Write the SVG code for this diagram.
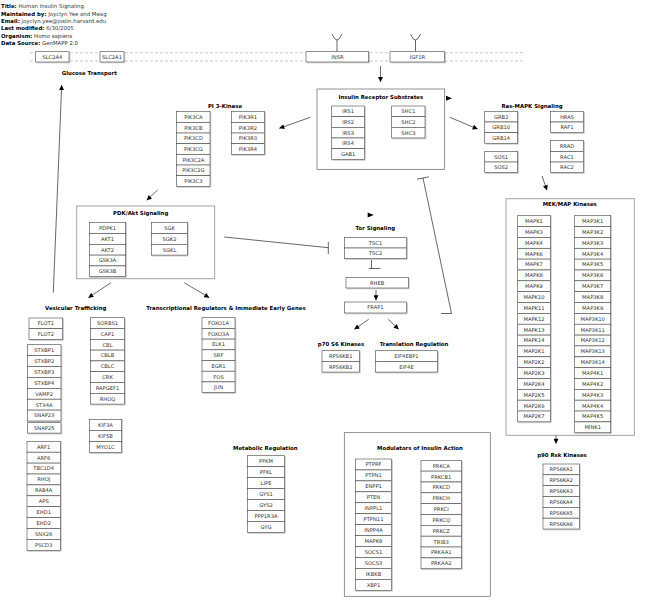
<svg xmlns="http://www.w3.org/2000/svg" width="648" height="604" viewBox="0 0 648 604">
<style>
text{font-family:"DejaVu Sans",sans-serif}
.hd{font-size:5.4px;fill:#333}
.hd tspan.b{font-weight:bold;fill:#000}
.tt{font-size:5.4px;font-weight:bold;fill:#000;text-anchor:middle}
.gb{fill:#fff;stroke:#444;stroke-width:0.6;filter:url(#sh)}
.gt{font-size:5.2px;fill:#333;text-anchor:middle}
.cb{fill:#fff;stroke:#666;stroke-width:0.7}
.cl{fill:#fff;stroke:#999;stroke-width:0.9}
.mem{stroke:#aaa;stroke-width:0.6;stroke-dasharray:3,2;fill:none}
.ln{stroke:#000;stroke-width:0.6;fill:none}
.ar{marker-end:url(#arr)}
</style>
<defs>
<filter id="sh" x="-10%" y="-10%" width="130%" height="140%"><feDropShadow dx="0.8" dy="0.8" stdDeviation="0" flood-color="#bbb"/></filter>
<marker id="arr" viewBox="0 0 10 10" refX="10" refY="5" markerWidth="6" markerHeight="5" orient="auto" markerUnits="userSpaceOnUse"><path d="M0,0L10,5L0,10z" fill="#000"/></marker>
</defs>
<rect width="648" height="604" fill="#fff"/>
<g id="header">
<text class="hd" x="1" y="7.5"><tspan class="b">Title:</tspan>  Human Insulin Signaling</text>
<text class="hd" x="1" y="16"><tspan class="b">Maintained by:</tspan>  Joyclyn Yee and Meag</text>
<text class="hd" x="1" y="22.8"><tspan class="b">Email:</tspan>  joyclyn.yee@joslin.harvard.edu</text>
<text class="hd" x="1" y="29.8"><tspan class="b">Last modified:</tspan>  6/30/2005</text>
<text class="hd" x="1" y="37.5"><tspan class="b">Organism:</tspan>  Homo sapiens</text>
<text class="hd" x="1" y="44.5"><tspan class="b">Data Source:</tspan>  GenMAPP 2.0</text>
</g>
<g id="membrane">
<line class="mem" x1="30" y1="52.7" x2="524" y2="52.7"/>
<line class="mem" x1="30" y1="61" x2="524" y2="61"/>
<path class="ln" d="M332,34Q337,46 342,34M337,40V51.7"/>
<path class="ln" d="M410.5,34Q415.5,46 420.5,34M415.5,40V51.7"/>
</g>
<g id="containers">
<rect class="cb" x="317" y="89" width="127.7" height="80.3"/>
<rect class="cl" x="76.7" y="206" width="138" height="72.7"/>
<rect class="cl" x="506" y="198.7" width="128.3" height="236.6"/>
<rect class="cb" x="344.3" y="432.7" width="146" height="163.6"/>
</g>
<g id="labels">
<text class="tt" x="89.3" y="74.5">Glucose Transport</text>
<text class="tt" x="380.8" y="99">Insulin Receptor Substrates</text>
<text class="tt" x="225" y="108">PI 3-Kinase</text>
<text class="tt" x="532" y="108">Ras-MAPK Signaling</text>
<text class="tt" x="569.7" y="205.8">MEK/MAP Kinases</text>
<text class="tt" x="140.7" y="215.3">PDK/Akt Signaling</text>
<text class="tt" x="375.3" y="230">Tor Signaling</text>
<text class="tt" x="75.7" y="309.8">Vesicular Trafficking</text>
<text class="tt" x="226" y="309.8">Transcriptional Regulators &amp; Immediate Early Genes</text>
<text class="tt" x="341" y="345.5">p70 S6 Kinases</text>
<text class="tt" x="414" y="345.5">Translation Regulation</text>
<text class="tt" x="265.3" y="449.5">Metabolic Regulation</text>
<text class="tt" x="420" y="450">Modulators of Insulin Action</text>
<text class="tt" x="562" y="457">p90 Rsk Kinases</text>
</g>
<g id="connectors">
<line class="ln ar" x1="380.5" y1="66" x2="380.5" y2="82"/>
<line class="ln ar" x1="310.3" y1="117.3" x2="279.3" y2="128.3"/>
<line class="ln ar" x1="449.7" y1="117.3" x2="477.7" y2="129"/>
<path d="M446,95.8L452,98.3L446,100.8z" fill="#000"/>
<line class="ln ar" x1="542" y1="176" x2="547" y2="190.3"/>
<line class="ln ar" x1="556" y1="435.3" x2="556" y2="443.7"/>
<line class="ln ar" x1="157.7" y1="190" x2="146.7" y2="200.3"/>
<line class="ln ar" x1="111" y1="282.7" x2="88.3" y2="297.7"/>
<line class="ln ar" x1="184.3" y1="282.7" x2="209.3" y2="297.7"/>
<line class="ln ar" x1="53.3" y1="292.7" x2="61.7" y2="85"/>
<path class="ln" d="M224.3,237L328.3,247.7M328.3,242V254"/>
<path d="M367.7,212.5L373.7,215L367.7,217.5z" fill="#000"/>
<path class="ln" d="M371.5,260V268.5M369,268.5H380.5"/>
<line class="ln ar" x1="376" y1="290" x2="376" y2="300.3"/>
<line class="ln ar" x1="368.7" y1="319.3" x2="354.3" y2="329.3"/>
<line class="ln ar" x1="388.3" y1="319.3" x2="398.7" y2="329.3"/>
<path class="ln" d="M441,313.5H451.5L423,178M417.1,179.2L428.9,176.8"/>
</g>
<g id="SLC2A4"><rect class="gb" x="35.7" y="51.7" width="33.3" height="10.3"/><text class="gt" x="52.4" y="58.8">SLC2A4</text></g>
<g id="SLC2A1"><rect class="gb" x="100" y="51.7" width="24" height="10.3"/><text class="gt" x="112" y="58.8">SLC2A1</text></g>
<g id="INSR"><rect class="gb" x="306" y="51.7" width="62.7" height="10.3"/><text class="gt" x="337.4" y="58.8">INSR</text></g>
<g id="IGF1R"><rect class="gb" x="390" y="51.7" width="54.7" height="10.3"/><text class="gt" x="417.4" y="58.8">IGF1R</text></g>
<g id="IRS1"><rect class="gb" x="331.7" y="106" width="32.7" height="10.67"/><text class="gt" x="348.1" y="113.2">IRS1</text></g>
<g id="IRS2"><rect class="gb" x="331.7" y="116.7" width="32.7" height="10.67"/><text class="gt" x="348.1" y="123.9">IRS2</text></g>
<g id="IRS3"><rect class="gb" x="331.7" y="127.3" width="32.7" height="10.67"/><text class="gt" x="348.1" y="134.5">IRS3</text></g>
<g id="IRS4"><rect class="gb" x="331.7" y="138" width="32.7" height="10.67"/><text class="gt" x="348.1" y="145.2">IRS4</text></g>
<g id="GAB1"><rect class="gb" x="331.7" y="148.7" width="32.7" height="10.67"/><text class="gt" x="348.1" y="155.9">GAB1</text></g>
<g id="SHC1"><rect class="gb" x="391.7" y="106" width="33.3" height="10.67"/><text class="gt" x="408.4" y="113.2">SHC1</text></g>
<g id="SHC2"><rect class="gb" x="391.7" y="116.7" width="33.3" height="10.67"/><text class="gt" x="408.4" y="123.9">SHC2</text></g>
<g id="SHC3"><rect class="gb" x="391.7" y="127.3" width="33.3" height="10.67"/><text class="gt" x="408.4" y="134.5">SHC3</text></g>
<g id="PIK3CA"><rect class="gb" x="176.7" y="111.7" width="33.3" height="10.67"/><text class="gt" x="193.4" y="118.9">PIK3CA</text></g>
<g id="PIK3CB"><rect class="gb" x="176.7" y="122.4" width="33.3" height="10.67"/><text class="gt" x="193.4" y="129.6">PIK3CB</text></g>
<g id="PIK3CD"><rect class="gb" x="176.7" y="133" width="33.3" height="10.67"/><text class="gt" x="193.4" y="140.2">PIK3CD</text></g>
<g id="PIK3CG"><rect class="gb" x="176.7" y="143.7" width="33.3" height="10.67"/><text class="gt" x="193.4" y="150.9">PIK3CG</text></g>
<g id="PIK3C2A"><rect class="gb" x="176.7" y="154.4" width="33.3" height="10.67"/><text class="gt" x="193.4" y="161.6">PIK3C2A</text></g>
<g id="PIK3C2G"><rect class="gb" x="176.7" y="165" width="33.3" height="10.67"/><text class="gt" x="193.4" y="172.2">PIK3C2G</text></g>
<g id="PIK3C3"><rect class="gb" x="176.7" y="175.7" width="33.3" height="10.67"/><text class="gt" x="193.4" y="182.9">PIK3C3</text></g>
<g id="PIK3R1"><rect class="gb" x="231.3" y="111.7" width="33.3" height="10.67"/><text class="gt" x="248" y="118.9">PIK3R1</text></g>
<g id="PIK3R2"><rect class="gb" x="231.3" y="122.4" width="33.3" height="10.67"/><text class="gt" x="248" y="129.6">PIK3R2</text></g>
<g id="PIK3R3"><rect class="gb" x="231.3" y="133" width="33.3" height="10.67"/><text class="gt" x="248" y="140.2">PIK3R3</text></g>
<g id="PIK3R4"><rect class="gb" x="231.3" y="143.7" width="33.3" height="10.67"/><text class="gt" x="248" y="150.9">PIK3R4</text></g>
<g id="GRB2"><rect class="gb" x="484.7" y="111.3" width="33" height="10.67"/><text class="gt" x="501.2" y="118.5">GRB2</text></g>
<g id="GRB10"><rect class="gb" x="484.7" y="122" width="33" height="10.67"/><text class="gt" x="501.2" y="129.2">GRB10</text></g>
<g id="GRB14"><rect class="gb" x="484.7" y="132.6" width="33" height="10.67"/><text class="gt" x="501.2" y="139.8">GRB14</text></g>
<g id="HRAS"><rect class="gb" x="550.3" y="111.3" width="33.3" height="10.67"/><text class="gt" x="567" y="118.5">HRAS</text></g>
<g id="RAF1"><rect class="gb" x="550.3" y="122" width="33.3" height="10.67"/><text class="gt" x="567" y="129.2">RAF1</text></g>
<g id="RRAD"><rect class="gb" x="550.3" y="140.7" width="33.3" height="10.67"/><text class="gt" x="567" y="147.9">RRAD</text></g>
<g id="RAC1"><rect class="gb" x="550.3" y="151.4" width="33.3" height="10.67"/><text class="gt" x="567" y="158.6">RAC1</text></g>
<g id="RAC2"><rect class="gb" x="550.3" y="162" width="33.3" height="10.67"/><text class="gt" x="567" y="169.2">RAC2</text></g>
<g id="SOS1"><rect class="gb" x="484.7" y="151.4" width="33" height="10.67"/><text class="gt" x="501.2" y="158.6">SOS1</text></g>
<g id="SOS2"><rect class="gb" x="484.7" y="162" width="33" height="10.67"/><text class="gt" x="501.2" y="169.2">SOS2</text></g>
<g id="MAPK1"><rect class="gb" x="517.7" y="215.7" width="32.6" height="10.85"/><text class="gt" x="534" y="223">MAPK1</text></g>
<g id="MAPK3"><rect class="gb" x="517.7" y="226.6" width="32.6" height="10.85"/><text class="gt" x="534" y="233.9">MAPK3</text></g>
<g id="MAPK4"><rect class="gb" x="517.7" y="237.4" width="32.6" height="10.85"/><text class="gt" x="534" y="244.7">MAPK4</text></g>
<g id="MAPK6"><rect class="gb" x="517.7" y="248.3" width="32.6" height="10.85"/><text class="gt" x="534" y="255.6">MAPK6</text></g>
<g id="MAPK7"><rect class="gb" x="517.7" y="259.1" width="32.6" height="10.85"/><text class="gt" x="534" y="266.4">MAPK7</text></g>
<g id="MAPK8"><rect class="gb" x="517.7" y="270" width="32.6" height="10.85"/><text class="gt" x="534" y="277.3">MAPK8</text></g>
<g id="MAPK9"><rect class="gb" x="517.7" y="280.8" width="32.6" height="10.85"/><text class="gt" x="534" y="288.1">MAPK9</text></g>
<g id="MAPK10"><rect class="gb" x="517.7" y="291.7" width="32.6" height="10.85"/><text class="gt" x="534" y="299">MAPK10</text></g>
<g id="MAPK11"><rect class="gb" x="517.7" y="302.5" width="32.6" height="10.85"/><text class="gt" x="534" y="309.8">MAPK11</text></g>
<g id="MAPK12"><rect class="gb" x="517.7" y="313.4" width="32.6" height="10.85"/><text class="gt" x="534" y="320.7">MAPK12</text></g>
<g id="MAPK13"><rect class="gb" x="517.7" y="324.2" width="32.6" height="10.85"/><text class="gt" x="534" y="331.5">MAPK13</text></g>
<g id="MAPK14"><rect class="gb" x="517.7" y="335.1" width="32.6" height="10.85"/><text class="gt" x="534" y="342.4">MAPK14</text></g>
<g id="MAP2K1"><rect class="gb" x="517.7" y="345.9" width="32.6" height="10.85"/><text class="gt" x="534" y="353.2">MAP2K1</text></g>
<g id="MAP2K2"><rect class="gb" x="517.7" y="356.8" width="32.6" height="10.85"/><text class="gt" x="534" y="364.1">MAP2K2</text></g>
<g id="MAP2K3"><rect class="gb" x="517.7" y="367.6" width="32.6" height="10.85"/><text class="gt" x="534" y="374.9">MAP2K3</text></g>
<g id="MAP2K4"><rect class="gb" x="517.7" y="378.5" width="32.6" height="10.85"/><text class="gt" x="534" y="385.8">MAP2K4</text></g>
<g id="MAP2K5"><rect class="gb" x="517.7" y="389.3" width="32.6" height="10.85"/><text class="gt" x="534" y="396.6">MAP2K5</text></g>
<g id="MAP2K6"><rect class="gb" x="517.7" y="400.2" width="32.6" height="10.85"/><text class="gt" x="534" y="407.5">MAP2K6</text></g>
<g id="MAP2K7"><rect class="gb" x="517.7" y="411" width="32.6" height="10.85"/><text class="gt" x="534" y="418.3">MAP2K7</text></g>
<g id="MAP3K1"><rect class="gb" x="574.7" y="215.7" width="36" height="10.85"/><text class="gt" x="592.7" y="223">MAP3K1</text></g>
<g id="MAP3K2"><rect class="gb" x="574.7" y="226.6" width="36" height="10.85"/><text class="gt" x="592.7" y="233.9">MAP3K2</text></g>
<g id="MAP3K3"><rect class="gb" x="574.7" y="237.4" width="36" height="10.85"/><text class="gt" x="592.7" y="244.7">MAP3K3</text></g>
<g id="MAP3K4"><rect class="gb" x="574.7" y="248.3" width="36" height="10.85"/><text class="gt" x="592.7" y="255.6">MAP3K4</text></g>
<g id="MAP3K5"><rect class="gb" x="574.7" y="259.1" width="36" height="10.85"/><text class="gt" x="592.7" y="266.4">MAP3K5</text></g>
<g id="MAP3K6"><rect class="gb" x="574.7" y="270" width="36" height="10.85"/><text class="gt" x="592.7" y="277.3">MAP3K6</text></g>
<g id="MAP3K7"><rect class="gb" x="574.7" y="280.8" width="36" height="10.85"/><text class="gt" x="592.7" y="288.1">MAP3K7</text></g>
<g id="MAP3K8"><rect class="gb" x="574.7" y="291.7" width="36" height="10.85"/><text class="gt" x="592.7" y="299">MAP3K8</text></g>
<g id="MAP3K9"><rect class="gb" x="574.7" y="302.5" width="36" height="10.85"/><text class="gt" x="592.7" y="309.8">MAP3K9</text></g>
<g id="MAP3K10"><rect class="gb" x="574.7" y="313.4" width="36" height="10.85"/><text class="gt" x="592.7" y="320.7">MAP3K10</text></g>
<g id="MAP3K11"><rect class="gb" x="574.7" y="324.2" width="36" height="10.85"/><text class="gt" x="592.7" y="331.5">MAP3K11</text></g>
<g id="MAP3K12"><rect class="gb" x="574.7" y="335.1" width="36" height="10.85"/><text class="gt" x="592.7" y="342.4">MAP3K12</text></g>
<g id="MAP3K13"><rect class="gb" x="574.7" y="345.9" width="36" height="10.85"/><text class="gt" x="592.7" y="353.2">MAP3K13</text></g>
<g id="MAP3K14"><rect class="gb" x="574.7" y="356.8" width="36" height="10.85"/><text class="gt" x="592.7" y="364.1">MAP3K14</text></g>
<g id="MAP4K1"><rect class="gb" x="574.7" y="367.6" width="36" height="10.85"/><text class="gt" x="592.7" y="374.9">MAP4K1</text></g>
<g id="MAP4K2"><rect class="gb" x="574.7" y="378.5" width="36" height="10.85"/><text class="gt" x="592.7" y="385.8">MAP4K2</text></g>
<g id="MAP4K3"><rect class="gb" x="574.7" y="389.3" width="36" height="10.85"/><text class="gt" x="592.7" y="396.6">MAP4K3</text></g>
<g id="MAP4K4"><rect class="gb" x="574.7" y="400.2" width="36" height="10.85"/><text class="gt" x="592.7" y="407.5">MAP4K4</text></g>
<g id="MAP4K5"><rect class="gb" x="574.7" y="411" width="36" height="10.85"/><text class="gt" x="592.7" y="418.3">MAP4K5</text></g>
<g id="MINK1"><rect class="gb" x="574.7" y="421.9" width="36" height="10.85"/><text class="gt" x="592.7" y="429.2">MINK1</text></g>
<g id="RPS6KA1"><rect class="gb" x="543" y="464" width="36.3" height="10.83"/><text class="gt" x="561.2" y="471.3">RPS6KA1</text></g>
<g id="RPS6KA2"><rect class="gb" x="543" y="474.8" width="36.3" height="10.83"/><text class="gt" x="561.2" y="482.1">RPS6KA2</text></g>
<g id="RPS6KA3"><rect class="gb" x="543" y="485.7" width="36.3" height="10.83"/><text class="gt" x="561.2" y="493">RPS6KA3</text></g>
<g id="RPS6KA4"><rect class="gb" x="543" y="496.5" width="36.3" height="10.83"/><text class="gt" x="561.2" y="503.8">RPS6KA4</text></g>
<g id="RPS6KA5"><rect class="gb" x="543" y="507.3" width="36.3" height="10.83"/><text class="gt" x="561.2" y="514.6">RPS6KA5</text></g>
<g id="RPS6KA6"><rect class="gb" x="543" y="518.2" width="36.3" height="10.83"/><text class="gt" x="561.2" y="525.5">RPS6KA6</text></g>
<g id="PDPK1"><rect class="gb" x="89.3" y="222.7" width="36.4" height="10.8"/><text class="gt" x="107.5" y="230">PDPK1</text></g>
<g id="AKT1"><rect class="gb" x="89.3" y="233.5" width="36.4" height="10.8"/><text class="gt" x="107.5" y="240.8">AKT1</text></g>
<g id="AKT2"><rect class="gb" x="89.3" y="244.3" width="36.4" height="10.8"/><text class="gt" x="107.5" y="251.6">AKT2</text></g>
<g id="GSK3A"><rect class="gb" x="89.3" y="255.1" width="36.4" height="10.8"/><text class="gt" x="107.5" y="262.4">GSK3A</text></g>
<g id="GSK3B"><rect class="gb" x="89.3" y="265.9" width="36.4" height="10.8"/><text class="gt" x="107.5" y="273.2">GSK3B</text></g>
<g id="SGK"><rect class="gb" x="151.7" y="222.7" width="35.6" height="10.8"/><text class="gt" x="169.5" y="230">SGK</text></g>
<g id="SGK2"><rect class="gb" x="151.7" y="233.5" width="35.6" height="10.8"/><text class="gt" x="169.5" y="240.8">SGK2</text></g>
<g id="SGKL"><rect class="gb" x="151.7" y="244.3" width="35.6" height="10.8"/><text class="gt" x="169.5" y="251.6">SGKL</text></g>
<g id="TSC1"><rect class="gb" x="344.3" y="237.3" width="62.4" height="10.7"/><text class="gt" x="375.5" y="244.6">TSC1</text></g>
<g id="TSC2"><rect class="gb" x="344.3" y="248" width="62.4" height="10.7"/><text class="gt" x="375.5" y="255.3">TSC2</text></g>
<g id="RHEB"><rect class="gb" x="346" y="277.3" width="62.3" height="10.7"/><text class="gt" x="377.2" y="284.6">RHEB</text></g>
<g id="FRAP1"><rect class="gb" x="344.3" y="302" width="62.4" height="11"/><text class="gt" x="375.5" y="309.4">FRAP1</text></g>
<g id="RPS6KB1"><rect class="gb" x="322" y="350.7" width="37.3" height="10.67"/><text class="gt" x="340.7" y="357.9">RPS6KB1</text></g>
<g id="RPS6KB2"><rect class="gb" x="322" y="361.4" width="37.3" height="10.67"/><text class="gt" x="340.7" y="368.6">RPS6KB2</text></g>
<g id="EIF4EBP1"><rect class="gb" x="375.3" y="350.7" width="62.4" height="10.67"/><text class="gt" x="406.5" y="357.9">EIF4EBP1</text></g>
<g id="EIF4E"><rect class="gb" x="375.3" y="361.4" width="62.4" height="10.67"/><text class="gt" x="406.5" y="368.6">EIF4E</text></g>
<g id="FLOT1"><rect class="gb" x="29" y="318" width="33.7" height="10.67"/><text class="gt" x="45.9" y="325.2">FLOT1</text></g>
<g id="FLOT2"><rect class="gb" x="29" y="328.7" width="33.7" height="10.67"/><text class="gt" x="45.9" y="335.9">FLOT2</text></g>
<g id="STXBP1"><rect class="gb" x="27.3" y="344.7" width="33.7" height="10.9"/><text class="gt" x="44.2" y="352">STXBP1</text></g>
<g id="STXBP2"><rect class="gb" x="27.3" y="355.6" width="33.7" height="10.9"/><text class="gt" x="44.2" y="362.9">STXBP2</text></g>
<g id="STXBP3"><rect class="gb" x="27.3" y="366.5" width="33.7" height="10.9"/><text class="gt" x="44.2" y="373.8">STXBP3</text></g>
<g id="STXBP4"><rect class="gb" x="27.3" y="377.4" width="33.7" height="10.9"/><text class="gt" x="44.2" y="384.7">STXBP4</text></g>
<g id="VAMP2"><rect class="gb" x="27.3" y="388.3" width="33.7" height="10.9"/><text class="gt" x="44.2" y="395.6">VAMP2</text></g>
<g id="STX4A"><rect class="gb" x="27.3" y="399.2" width="33.7" height="10.9"/><text class="gt" x="44.2" y="406.5">STX4A</text></g>
<g id="SNAP23"><rect class="gb" x="27.3" y="410.1" width="33.7" height="10.9"/><text class="gt" x="44.2" y="417.4">SNAP23</text></g>
<g id="SNAP25"><rect class="gb" x="27.3" y="422.7" width="33.7" height="10.4"/><text class="gt" x="44.2" y="429.8">SNAP25</text></g>
<g id="ARF1"><rect class="gb" x="27" y="441.3" width="33.3" height="10.9"/><text class="gt" x="43.7" y="448.6">ARF1</text></g>
<g id="ARF6"><rect class="gb" x="27" y="452.2" width="33.3" height="10.9"/><text class="gt" x="43.7" y="459.5">ARF6</text></g>
<g id="TBC1D4"><rect class="gb" x="27" y="463.1" width="33.3" height="10.9"/><text class="gt" x="43.7" y="470.4">TBC1D4</text></g>
<g id="RHOJ"><rect class="gb" x="27" y="474" width="33.3" height="10.9"/><text class="gt" x="43.7" y="481.3">RHOJ</text></g>
<g id="RAB4A"><rect class="gb" x="27" y="484.9" width="33.3" height="10.9"/><text class="gt" x="43.7" y="492.2">RAB4A</text></g>
<g id="APS"><rect class="gb" x="27" y="495.8" width="33.3" height="10.9"/><text class="gt" x="43.7" y="503.1">APS</text></g>
<g id="EHD1"><rect class="gb" x="27" y="506.7" width="33.3" height="10.9"/><text class="gt" x="43.7" y="514">EHD1</text></g>
<g id="EHD2"><rect class="gb" x="27" y="517.6" width="33.3" height="10.9"/><text class="gt" x="43.7" y="524.9">EHD2</text></g>
<g id="SNX26"><rect class="gb" x="27" y="528.5" width="33.3" height="10.9"/><text class="gt" x="43.7" y="535.8">SNX26</text></g>
<g id="PSCD3"><rect class="gb" x="27" y="539.4" width="33.3" height="10.9"/><text class="gt" x="43.7" y="546.7">PSCD3</text></g>
<g id="SORBS1"><rect class="gb" x="90.7" y="317.7" width="33.6" height="10.8"/><text class="gt" x="107.5" y="325">SORBS1</text></g>
<g id="CAP1"><rect class="gb" x="90.7" y="328.5" width="33.6" height="10.8"/><text class="gt" x="107.5" y="335.8">CAP1</text></g>
<g id="CBL"><rect class="gb" x="90.7" y="339.3" width="33.6" height="10.8"/><text class="gt" x="107.5" y="346.6">CBL</text></g>
<g id="CBLB"><rect class="gb" x="90.7" y="350.1" width="33.6" height="10.8"/><text class="gt" x="107.5" y="357.4">CBLB</text></g>
<g id="CBLC"><rect class="gb" x="90.7" y="360.9" width="33.6" height="10.8"/><text class="gt" x="107.5" y="368.2">CBLC</text></g>
<g id="CRK"><rect class="gb" x="90.7" y="371.7" width="33.6" height="10.8"/><text class="gt" x="107.5" y="379">CRK</text></g>
<g id="RAPGEF1"><rect class="gb" x="90.7" y="382.5" width="33.6" height="10.8"/><text class="gt" x="107.5" y="389.8">RAPGEF1</text></g>
<g id="RHOQ"><rect class="gb" x="90.7" y="393.3" width="33.6" height="10.8"/><text class="gt" x="107.5" y="400.6">RHOQ</text></g>
<g id="KIF3A"><rect class="gb" x="89.3" y="419.3" width="32.4" height="11.1"/><text class="gt" x="105.5" y="426.8">KIF3A</text></g>
<g id="KIF5B"><rect class="gb" x="89.3" y="430.4" width="32.4" height="11.1"/><text class="gt" x="105.5" y="437.9">KIF5B</text></g>
<g id="MYO1C"><rect class="gb" x="89.3" y="441.5" width="32.4" height="11.1"/><text class="gt" x="105.5" y="449">MYO1C</text></g>
<g id="FOXO1A"><rect class="gb" x="202" y="317.7" width="33" height="10.7"/><text class="gt" x="218.5" y="325">FOXO1A</text></g>
<g id="FOXO3A"><rect class="gb" x="202" y="328.4" width="33" height="10.7"/><text class="gt" x="218.5" y="335.7">FOXO3A</text></g>
<g id="ELK1"><rect class="gb" x="202" y="339.1" width="33" height="10.7"/><text class="gt" x="218.5" y="346.4">ELK1</text></g>
<g id="SRF"><rect class="gb" x="202" y="349.8" width="33" height="10.7"/><text class="gt" x="218.5" y="357.1">SRF</text></g>
<g id="EGR1"><rect class="gb" x="202" y="360.5" width="33" height="10.7"/><text class="gt" x="218.5" y="367.8">EGR1</text></g>
<g id="FOS"><rect class="gb" x="202" y="371.2" width="33" height="10.7"/><text class="gt" x="218.5" y="378.5">FOS</text></g>
<g id="JUN"><rect class="gb" x="202" y="381.9" width="33" height="10.7"/><text class="gt" x="218.5" y="389.2">JUN</text></g>
<g id="PFKM"><rect class="gb" x="247.7" y="455.7" width="36.6" height="10.95"/><text class="gt" x="266" y="463.1">PFKM</text></g>
<g id="PFKL"><rect class="gb" x="247.7" y="466.65" width="36.6" height="10.95"/><text class="gt" x="266" y="474.1">PFKL</text></g>
<g id="LIPE"><rect class="gb" x="247.7" y="477.6" width="36.6" height="10.95"/><text class="gt" x="266" y="485">LIPE</text></g>
<g id="GYS1"><rect class="gb" x="247.7" y="488.55" width="36.6" height="10.95"/><text class="gt" x="266" y="496">GYS1</text></g>
<g id="GYS2"><rect class="gb" x="247.7" y="499.5" width="36.6" height="10.95"/><text class="gt" x="266" y="506.9">GYS2</text></g>
<g id="PPP1R3A"><rect class="gb" x="247.7" y="510.45" width="36.6" height="10.95"/><text class="gt" x="266" y="517.9">PPP1R3A</text></g>
<g id="GYG"><rect class="gb" x="247.7" y="521.4" width="36.6" height="10.95"/><text class="gt" x="266" y="528.8">GYG</text></g>
<g id="PTPRF"><rect class="gb" x="355.3" y="459" width="36.4" height="10.94"/><text class="gt" x="373.5" y="466.4">PTPRF</text></g>
<g id="PTPN1"><rect class="gb" x="355.3" y="469.94" width="36.4" height="10.94"/><text class="gt" x="373.5" y="477.3">PTPN1</text></g>
<g id="ENPP1"><rect class="gb" x="355.3" y="480.88" width="36.4" height="10.94"/><text class="gt" x="373.5" y="488.3">ENPP1</text></g>
<g id="PTEN"><rect class="gb" x="355.3" y="491.82" width="36.4" height="10.94"/><text class="gt" x="373.5" y="499.2">PTEN</text></g>
<g id="INPPL1"><rect class="gb" x="355.3" y="502.76" width="36.4" height="10.94"/><text class="gt" x="373.5" y="510.2">INPPL1</text></g>
<g id="PTPN11"><rect class="gb" x="355.3" y="513.7" width="36.4" height="10.94"/><text class="gt" x="373.5" y="521.1">PTPN11</text></g>
<g id="INPP4A"><rect class="gb" x="355.3" y="524.64" width="36.4" height="10.94"/><text class="gt" x="373.5" y="532">INPP4A</text></g>
<g id="MAPK8b"><rect class="gb" x="355.3" y="535.58" width="36.4" height="10.94"/><text class="gt" x="373.5" y="543">MAPK8</text></g>
<g id="SOCS1"><rect class="gb" x="355.3" y="546.52" width="36.4" height="10.94"/><text class="gt" x="373.5" y="553.9">SOCS1</text></g>
<g id="SOCS3"><rect class="gb" x="355.3" y="557.46" width="36.4" height="10.94"/><text class="gt" x="373.5" y="564.9">SOCS3</text></g>
<g id="IKBKB"><rect class="gb" x="355.3" y="568.4" width="36.4" height="10.94"/><text class="gt" x="373.5" y="575.8">IKBKB</text></g>
<g id="XBP1"><rect class="gb" x="355.3" y="579.34" width="36.4" height="10.94"/><text class="gt" x="373.5" y="586.7">XBP1</text></g>
<g id="PRKCA"><rect class="gb" x="421" y="460.3" width="40.3" height="10.84"/><text class="gt" x="441.2" y="467.7">PRKCA</text></g>
<g id="PRKCB1"><rect class="gb" x="421" y="471.1" width="40.3" height="10.84"/><text class="gt" x="441.2" y="478.5">PRKCB1</text></g>
<g id="PRKCD"><rect class="gb" x="421" y="482" width="40.3" height="10.84"/><text class="gt" x="441.2" y="489.4">PRKCD</text></g>
<g id="PRKCH"><rect class="gb" x="421" y="492.8" width="40.3" height="10.84"/><text class="gt" x="441.2" y="500.2">PRKCH</text></g>
<g id="PRKCI"><rect class="gb" x="421" y="503.7" width="40.3" height="10.84"/><text class="gt" x="441.2" y="511.1">PRKCI</text></g>
<g id="PRKCQ"><rect class="gb" x="421" y="514.5" width="40.3" height="10.84"/><text class="gt" x="441.2" y="521.9">PRKCQ</text></g>
<g id="PRKCZ"><rect class="gb" x="421" y="525.3" width="40.3" height="10.84"/><text class="gt" x="441.2" y="532.7">PRKCZ</text></g>
<g id="TRIB3"><rect class="gb" x="421" y="536.2" width="40.3" height="10.84"/><text class="gt" x="441.2" y="543.6">TRIB3</text></g>
<g id="PRKAA1"><rect class="gb" x="421" y="547" width="40.3" height="10.84"/><text class="gt" x="441.2" y="554.4">PRKAA1</text></g>
<g id="PRKAA2"><rect class="gb" x="421" y="557.9" width="40.3" height="10.84"/><text class="gt" x="441.2" y="565.3">PRKAA2</text></g>
</svg>
